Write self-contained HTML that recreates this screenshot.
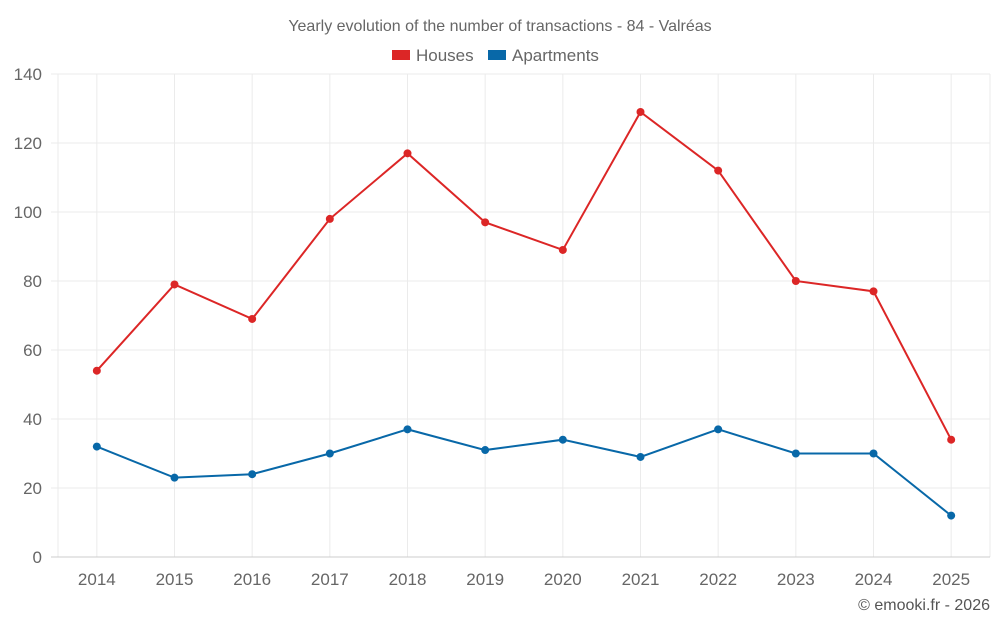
<!DOCTYPE html>
<html><head><meta charset="utf-8"><style>
html,body{margin:0;padding:0;background:#fff;}
svg{display:block;font-family:"Liberation Sans",sans-serif;}
</style></head><body>
<svg id="chart" width="1000" height="625"></svg>
<script>
const years = ["2014","2015","2016","2017","2018","2019","2020","2021","2022","2023","2024","2025"];
const houses = [54,79,69,98,117,97,89,129,112,80,77,34];
const apartments = [32,23,24,30,37,31,34,29,37,30,30,12];
const yTicks = [0,20,40,60,80,100,120,140];

const svg = document.getElementById('chart');
const NS = 'http://www.w3.org/2000/svg';
const L = 58, R = 990, T = 74, B = 557, yMax = 140;
const band = (R - L) / years.length;
const xPos = i => L + band * (i + 0.5);
const yPos = v => B - (v / yMax) * (B - T);
function mk(tag, attrs, parent) {
  const e = document.createElementNS(NS, tag);
  for (const k in attrs) e.setAttribute(k, attrs[k]);
  (parent || svg).appendChild(e);
  return e;
}

// vertical gridlines at category centers + edges
[L, R].forEach(x => {
  const ln = mk('line', {x1: x, x2: x, y1: T, y2: B, stroke: '#ebebeb', 'stroke-width': 1});
  
  
});
years.forEach((y, i) => {
  const ln = mk('line', {x1: xPos(i), x2: xPos(i), y1: T, y2: B, stroke: '#ebebeb', 'stroke-width': 1});
  
  
  const t = mk('text', {x: xPos(i), y: B + 28, 'text-anchor': 'middle', 'font-size': 17, fill: '#666'});
  t.textContent = y;
  
  
});
yTicks.forEach(v => {
  const ln = mk('line', {x1: 51, x2: R, y1: yPos(v), y2: yPos(v), stroke: v === 0 ? '#ccc' : '#ebebeb', 'stroke-width': 1});
  
  
  const t = mk('text', {x: 42, y: yPos(v) + 6, 'text-anchor': 'end', 'font-size': 17, fill: '#666'});
  t.textContent = v;
  
  
});

function series(vals, color, name) {
  const pts = vals.map((v, i) => xPos(i) + ',' + yPos(v)).join(' ');
  const pl = mk('polyline', {points: pts, fill: 'none', stroke: color, 'stroke-width': 2});
  
  
  vals.forEach((v, i) => {
    const c = mk('circle', {cx: xPos(i), cy: yPos(v), r: 4, fill: color});
    
    
  });
}
series(houses, '#dc2626', 'houses');
series(apartments, '#0868a8', 'apartments');

const title = mk('text', {x: 500, y: 31, 'text-anchor': 'middle', 'font-size': 16, fill: '#666'});
title.textContent = 'Yearly evolution of the number of transactions - 84 - Valréas';



const lg1 = mk('rect', {x: 392, y: 50, width: 18, height: 10, fill: '#dc2626'});


const lt1 = mk('text', {x: 416, y: 61, 'font-size': 17, fill: '#666'});
lt1.textContent = 'Houses';


const lg2 = mk('rect', {x: 488, y: 50, width: 18, height: 10, fill: '#0868a8'});


const lt2 = mk('text', {x: 512, y: 61, 'font-size': 17, fill: '#666'});
lt2.textContent = 'Apartments';



const cr = mk('text', {x: 990, y: 610, 'text-anchor': 'end', 'font-size': 16, fill: '#555'});
cr.textContent = '© emooki.fr - 2026';


</script>
</body></html>
